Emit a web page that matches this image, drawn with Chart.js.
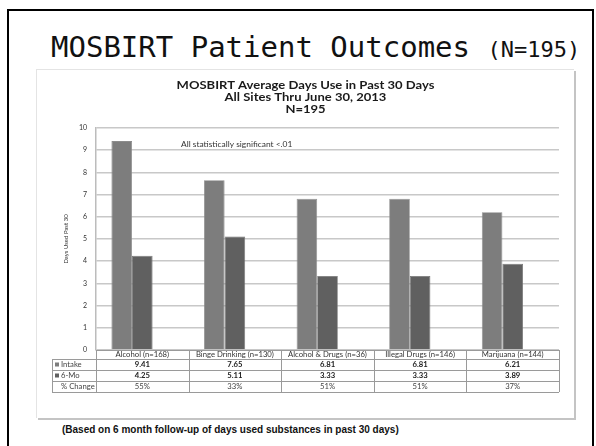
<!DOCTYPE html>
<html>
<head>
<meta charset="utf-8">
<script src="https://cdn.jsdelivr.net/npm/chart.js@4"></script>
<style>
  html, body { margin: 0; padding: 0; background: #fff; overflow: hidden; }
  body { width: 596px; height: 446px; position: relative; }
  .frame { position: absolute; left: 7px; top: 9px; width: 583px; height: 500px; border: 2px solid #000; }
  .slide-title { position: absolute; left: 51px; top: 29px; font-family: "DejaVu Sans Mono", monospace;
    font-size: 29px; color: #111; white-space: nowrap; line-height: 36px; }
  .slide-title small { font-size: 22px; }
  .box { position: absolute; left: 36px; top: 69px; width: 537px; height: 348px; background: #fff;
    border-top: 1px solid #e4e4e4; border-left: 1px solid #e4e4e4;
    box-shadow: 2px 2px 0 #c4c4c4; }
  .box canvas { position: absolute; left: 0; top: 0; }
  .note { position: absolute; left: 62px; top: 424px; font-family: "Liberation Sans", Arial, sans-serif;
    font-weight: bold; font-size: 10px; color: #111; white-space: nowrap; }
</style>
</head>
<body>
<div class="frame"></div>
<div class="slide-title">MOSBIRT Patient Outcomes <small>(N=195)</small></div>
<div class="box"><canvas id="chart" width="537" height="348"></canvas></div>
<div class="note">(Based on 6 month follow-up of days used substances in past 30 days)</div>
<script>
(function () {
  const categories = ["Alcohol (n=168)", "Binge Drinking (n=130)", "Alcohol & Drugs (n=36)", "Illegal Drugs (n=146)", "Marijuana (n=144)"];
  const intake = [9.41, 7.65, 6.81, 6.81, 6.21];
  const sixMonth = [4.25, 5.11, 3.33, 3.33, 3.89];
  const pctChange = ["55%", "33%", "51%", "51%", "37%"];
  const titleLines = ["MOSBIRT Average Days Use in Past 30 Days", "All Sites Thru June 30, 2013", "N=195"];

  const intakeColor = "#7d7d7d";
  const sixMoColor = "#606060";
  const textFont = "Lato, 'Open Sans', sans-serif";

  // the pasted chart picture is stretched sideways, so text gets a horizontal scale
  function wideText(ctx, text, x, y, sx) {
    ctx.save();
    ctx.translate(x, y);
    ctx.scale(sx, 1);
    ctx.fillText(text, 0, 0);
    ctx.restore();
  }

  // titles, note, axis title and the data table under the plot
  const extras = {
    id: "extras",
    afterDraw(chart) {
      const { ctx, chartArea, scales } = chart;
      const x = scales.x;
      ctx.save();
      ctx.fillStyle = "#1a1a1a";
      ctx.textAlign = "center";
      ctx.textBaseline = "middle";
      ctx.font = "bold 10.5px " + textFont;
      titleLines.forEach((t, i) => wideText(ctx, t, chart.width / 2, 16 + i * 12, 1.24));

      ctx.font = "7px " + textFont;
      ctx.fillStyle = "#333";
      ctx.textAlign = "left";
      wideText(ctx, "All statistically significant <.01", 144, 75, 1.2);

      ctx.save();
      ctx.translate(29, 169);
      ctx.rotate(-Math.PI / 2);
      ctx.textAlign = "center";
      ctx.font = "6px " + textFont;
      ctx.fillText("Days Used Past 30", 0, 0);
      ctx.restore();

      // table
      const top = chartArea.bottom;
      const rows = [top, top + 9, top + 20, top + 31, top + 42];
      const tLeft = chartArea.left - 44;
      const half = (x.getPixelForValue(1) - x.getPixelForValue(0)) / 2;
      const edges = categories.map((c, i) => x.getPixelForValue(i) - half);
      edges.push(x.getPixelForValue(categories.length - 1) + half);

      ctx.strokeStyle = "#9a9a9a";
      ctx.lineWidth = 1;
      ctx.beginPath();
      rows.forEach((y, i) => {
        const l = i === 0 ? chartArea.left : tLeft;
        ctx.moveTo(l, Math.round(y) + 0.5);
        ctx.lineTo(edges[edges.length - 1], Math.round(y) + 0.5);
      });
      edges.forEach(e => {
        ctx.moveTo(Math.round(e) + 0.5, rows[0]);
        ctx.lineTo(Math.round(e) + 0.5, rows[4]);
      });
      ctx.moveTo(tLeft + 0.5, rows[1]);
      ctx.lineTo(tLeft + 0.5, rows[4]);
      ctx.stroke();

      ctx.textAlign = "center";
      ctx.fillStyle = "#333";
      ctx.font = "7px " + textFont;
      categories.forEach((c, i) => wideText(ctx, c, x.getPixelForValue(i), (rows[0] + rows[1]) / 2 + 0.5, 1.1));
      ctx.font = "bold 7px " + textFont;
      ctx.fillStyle = "#222";
      intake.forEach((v, i) => wideText(ctx, v.toFixed(2), x.getPixelForValue(i), (rows[1] + rows[2]) / 2 + 0.5, 1.1));
      sixMonth.forEach((v, i) => wideText(ctx, v.toFixed(2), x.getPixelForValue(i), (rows[2] + rows[3]) / 2 + 0.5, 1.1));
      ctx.font = "7px " + textFont;
      ctx.fillStyle = "#444";
      pctChange.forEach((v, i) => wideText(ctx, v, x.getPixelForValue(i), (rows[3] + rows[4]) / 2 + 0.5, 1.1));

      // row labels with legend keys
      ctx.textAlign = "left";
      const rowLabels = [["Intake", intakeColor], ["6-Mo", sixMoColor], ["% Change", null]];
      rowLabels.forEach((r, i) => {
        const cy = (rows[i + 1] + rows[i + 2]) / 2;
        if (r[1]) {
          ctx.fillStyle = r[1];
          ctx.fillRect(tLeft + 3, cy - 2, 4, 4);
        }
        ctx.fillStyle = "#444";
        wideText(ctx, r[0], tLeft + 9, cy + 0.5, 1.1);
      });
      ctx.restore();
    },
  };

  new Chart(document.getElementById("chart"), {
    type: "bar",
    data: {
      labels: categories,
      datasets: [
        { label: "Intake", data: intake, backgroundColor: intakeColor, borderColor: "#8c8c8c", borderWidth: 0.8 },
        { label: "6-Mo", data: sixMonth, backgroundColor: sixMoColor, borderColor: "#727272", borderWidth: 0.8 },
        { label: "spacer", data: categories.map(() => null), backgroundColor: "rgba(0,0,0,0)" },
      ],
    },
    options: {
      responsive: false,
      animation: false,
      layout: { padding: { top: 58, right: 15, bottom: 68, left: 0 } },
      datasets: { bar: { categoryPercentage: 0.667, barPercentage: 1 } },
      plugins: { legend: { display: false }, tooltip: { enabled: false } },
      scales: {
        x: { display: false },
        y: {
          min: 0,
          max: 10,
          ticks: { stepSize: 1, color: "#333", font: { size: 7, family: textFont }, padding: 9 },
          grid: { color: "#c8c8c8", lineWidth: 1.6, drawTicks: false },
          border: { display: true, color: "#bcbcbc", width: 1.5 },
          afterFit: (s) => { s.width = 59; },
        },
      },
    },
    plugins: [extras],
  });
})();
</script>
</body>
</html>
